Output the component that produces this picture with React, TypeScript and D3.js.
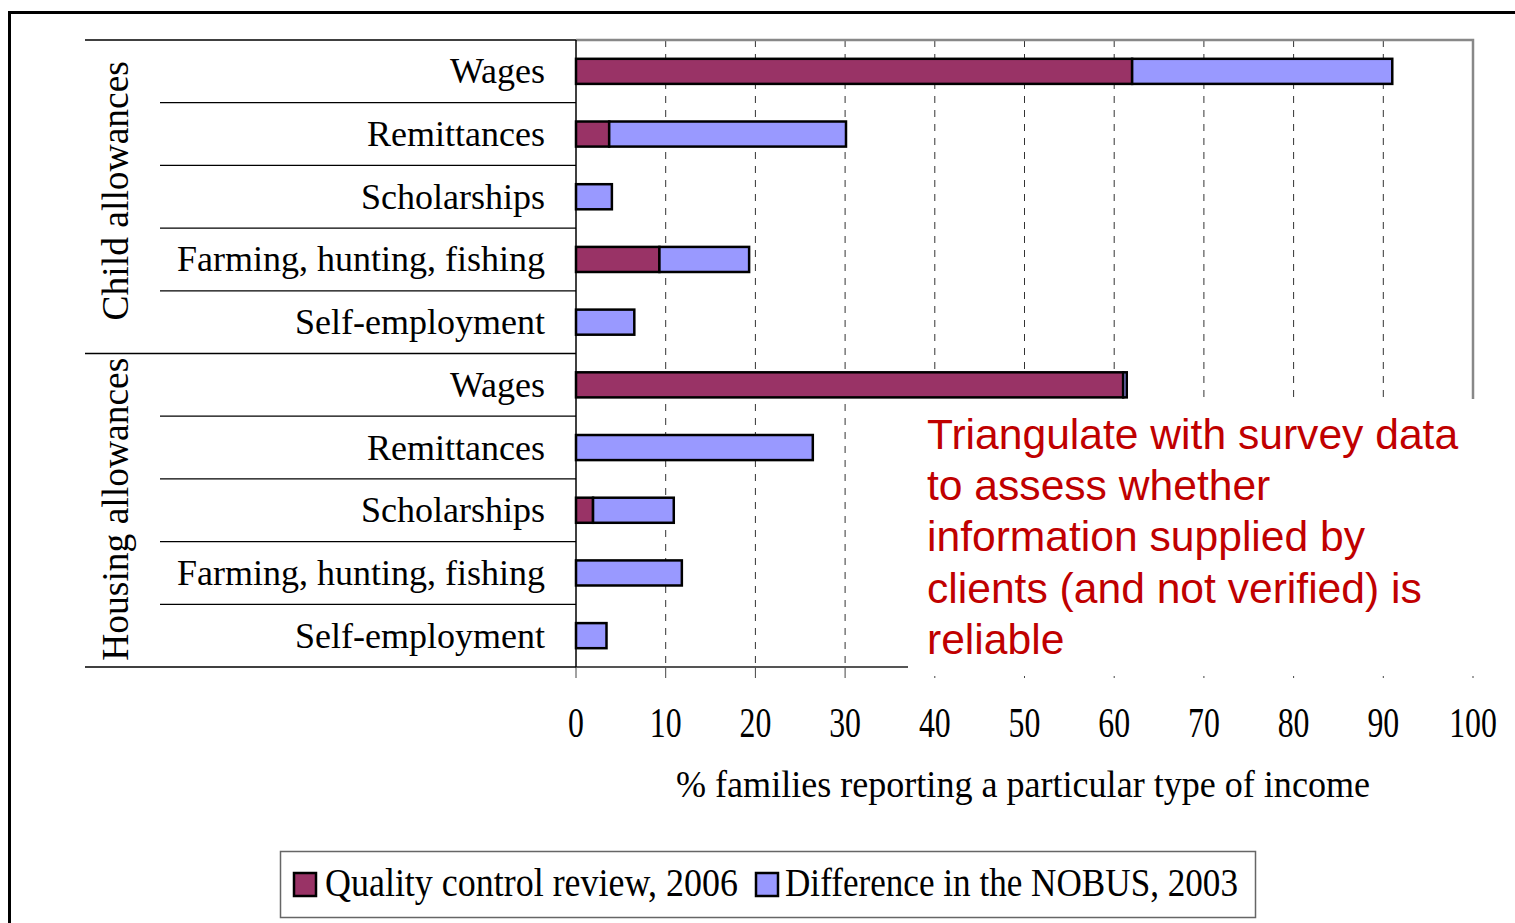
import React from "react";
import * as d3 from "d3";

const groups = ["Child allowances", "Housing allowances"];
const categories = ["Wages", "Remittances", "Scholarships", "Farming, hunting, fishing", "Self-employment"];
const qualityControl2006 = [62, 3.7, 0, 9.3, 0, 61, 0, 1.9, 0, 0];
const differenceNobus2003 = [29, 26.4, 4, 10, 6.5, 0.4, 26.4, 9, 11.8, 3.4];
const xTicks = [0, 10, 20, 30, 40, 50, 60, 70, 80, 90, 100];
const seriesNames = ["Quality control review, 2006", "Difference in the NOBUS, 2003"];
const seriesColors = ["#993366", "#9999FF"];
const xTitle = "% families reporting a particular type of income";
const noteLines = [
  "Triangulate with survey data",
  "to assess whether",
  "information supplied by",
  "clients (and not verified) is",
  "reliable",
];

const W = 1515;
const H = 923;
const serif = "'Liberation Serif', 'Times New Roman', serif";
const sans = "'Liberation Sans', Arial, sans-serif";

export default function App() {
  const rows = groups.flatMap((g, gi) => categories.map((c, ci) => ({ g, gi, c, ci, i: gi * categories.length + ci })));
  const x = d3.scaleLinear().domain([0, 100]).range([576, 1473]);
  const y = d3.scaleBand<number>().domain(rows.map((r) => r.i)).range([40, 667]).paddingInner(0).paddingOuter(0);
  const bw = y.bandwidth();
  const barH = bw * 0.4;
  const plotTop = 40;
  const plotBottom = 667;
  const boundaries = d3.range(rows.length + 1).map((k) => plotTop + k * bw);

  return (
    <svg width={W} height={H} style={{ position: "absolute", left: 0, top: 0, display: "block", background: "#fff" }}>
      <rect x={0} y={0} width={W} height={H} fill="#fff" />
      {/* outer frame */}
      <path d={`M9.5,${H} L9.5,12.5 L${W},12.5`} fill="none" stroke="#000" strokeWidth={3} />

      {/* gridlines */}
      {xTicks.slice(1, -1).map((t) => (
        <line key={"g" + t} x1={x(t)} x2={x(t)} y1={plotTop} y2={plotBottom} stroke="#333" strokeWidth={1} strokeDasharray="7,7" />
      ))}

      {/* plot border top/right */}
      <path d={`M${x(0)},${plotTop} L${x(100)},${plotTop} L${x(100)},${plotBottom}`} fill="none" stroke="#888" strokeWidth={2.5} />

      {/* bars */}
      {rows.map((r) => {
        const q = qualityControl2006[r.i];
        const d = differenceNobus2003[r.i];
        const cy = (y(r.i) as number) + bw / 2;
        return (
          <g key={"b" + r.i}>
            {q > 0 && (
              <rect x={x(0)} y={cy - barH / 2} width={x(q) - x(0)} height={barH} fill={seriesColors[0]} stroke="#000" strokeWidth={2.5} />
            )}
            {d > 0 && (
              <rect x={x(q)} y={cy - barH / 2} width={x(q + d) - x(q)} height={barH} fill={seriesColors[1]} stroke="#000" strokeWidth={2.5} />
            )}
          </g>
        );
      })}

      {/* x ticks */}
      {xTicks.map((t) => (
        <line key={"t" + t} x1={x(t)} x2={x(t)} y1={plotBottom} y2={plotBottom + 11} stroke="#444" strokeWidth={1} />
      ))}
      {/* axis line */}
      <line x1={x(0)} x2={x(100)} y1={plotBottom} y2={plotBottom} stroke="#555" strokeWidth={2} />
      <line x1={x(0)} x2={x(0)} y1={plotTop} y2={plotBottom} stroke="#000" strokeWidth={1.5} />

      {/* left category table lines */}
      {boundaries.map((b, k) => {
        const isGroup = k % categories.length === 0;
        return (
          <line key={"s" + k} x1={isGroup ? 85 : 160} x2={x(0)} y1={b} y2={b} stroke="#000" strokeWidth={1.3} />
        );
      })}

      {/* category labels */}
      {rows.map((r) => (
        <text key={"c" + r.i} x={545} y={(y(r.i) as number) + bw / 2 + 12} textAnchor="end" fontFamily={serif} fontSize={36} fill="#000">
          {r.c}
        </text>
      ))}

      {/* group labels */}
      {groups.map((g, gi) => {
        const y0 = boundaries[gi * categories.length];
        const y1 = boundaries[(gi + 1) * categories.length];
        const cy = (y0 + y1) / 2 + (gi === 0 ? -6 : -1);
        return (
          <text key={"grp" + gi} transform={`translate(128,${cy}) rotate(-90)`} textAnchor="middle" fontFamily={serif} fontSize={37.5} fill="#000">
            {g}
          </text>
        );
      })}

      {/* annotation box */}
      <rect x={908} y={399} width={620} height={277} fill="#fff" />
      {noteLines.map((l, k) => (
        <text key={"n" + k} x={927} y={449 + k * 51.2} fontFamily={sans} fontSize={42.6} fill="#C00000">
          {l}
        </text>
      ))}

      {/* tick labels */}
      {xTicks.map((t) => (
        <g key={"tl" + t} transform={`translate(${x(t)},737) scale(0.74,1)`}>
          <text x={0} y={0} textAnchor="middle" fontFamily={serif} fontSize={43} fill="#000">
            {t}
          </text>
        </g>
      ))}

      {/* x title */}
      <text x={676} y={797} fontFamily={serif} fontSize={38} fill="#000" textLength={694} lengthAdjust="spacingAndGlyphs">
        {xTitle}
      </text>

      {/* legend */}
      <rect x={280.5} y={851.5} width={975} height={66} fill="#fff" stroke="#666" strokeWidth={1.5} />
      <rect x={294} y={873} width={22} height={23} fill={seriesColors[0]} stroke="#000" strokeWidth={2.5} />
      <text x={325} y={896} fontFamily={serif} fontSize={39} fill="#000" textLength={413} lengthAdjust="spacingAndGlyphs">
        {seriesNames[0]}
      </text>
      <rect x={756} y={873} width={22} height={23} fill={seriesColors[1]} stroke="#000" strokeWidth={2.5} />
      <text x={785} y={896} fontFamily={serif} fontSize={39} fill="#000" textLength={453} lengthAdjust="spacingAndGlyphs">
        {seriesNames[1]}
      </text>
    </svg>
  );
}
